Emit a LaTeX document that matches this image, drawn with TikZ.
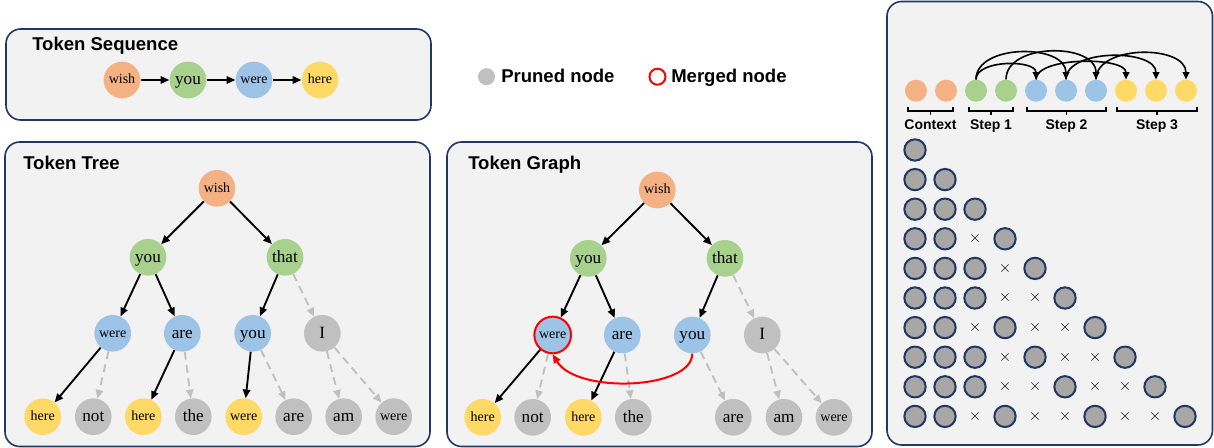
\documentclass[tikz,border=0pt]{standalone}
\usepackage{fontspec}
\setmainfont{Liberation Serif}
\setsansfont{Liberation Sans}
\usetikzlibrary{arrows.meta}
\definecolor{tokorange}{HTML}{F4B183}
\definecolor{tokgreen}{HTML}{A9D18E}
\definecolor{tokblue}{HTML}{9DC3E6}
\definecolor{tokyellow}{HTML}{FFD966}
\definecolor{tokgray}{HTML}{C0C0C0}
\definecolor{panelfill}{HTML}{F2F2F2}
\definecolor{panelline}{HTML}{203864}
\definecolor{maskgray}{HTML}{A9A6A6}
\tikzset{panel/.style={draw=panelline, fill=panelfill, line width=1.2pt, rounded corners=11pt},
         title/.style={anchor=base west, inner sep=0pt, font=\sffamily\bfseries\fontsize{13.9}{16}\selectfont},
         tok/.style={circle, inner sep=0pt, minimum size=27.5pt},
         sm/.style={tok, text height=7pt, text depth=1pt, font=\fontsize{10.5}{12}\selectfont},
         lg/.style={tok, text height=8.5pt, text depth=1pt, font=\fontsize{12.9}{14}\selectfont},
         edge/.style={line width=1.4pt, -{Triangle[length=6.5pt,width=5.5pt]}},
         pruned/.style={edge, draw=tokgray, dash pattern=on 6pt off 4pt},
         merge/.style={edge, draw=red, line width=1.5pt},
         dot/.style={circle, inner sep=0pt, minimum size=16.5pt},
         arc/.style={line width=1.2pt, -{Triangle[length=5.5pt,width=5pt]}},
         bracket/.style={line width=1.1pt},
         braceLabel/.style={anchor=base, inner sep=0pt, font=\sffamily\bfseries\fontsize{10.5}{12}\selectfont},
         keep/.style={circle, draw=panelline, fill=maskgray, line width=1.5pt, inner sep=0pt, minimum size=16pt},
         cross/.style={inner sep=0pt, font=\fontsize{13}{14}\selectfont}
        }

\begin{document}
\begin{tikzpicture}[x=0.75pt, y=-0.75pt]
        \useasboundingbox (0,0) rectangle (1214,448);
        \draw [panel] (6,29) rectangle (431,120);
        \draw [panel] (5,142) rectangle (430,446.5);
        \draw [panel] (447,142) rectangle (872,446.5);
        \draw [panel] (887,1.5) rectangle (1212.5,445);
        \node [title] (seqtitle) at (32,50.7) {Token Sequence};
        \node [title] (treetitle) at (23,170) {Token Tree};
        \node [title] (graphtitle) at (468,170) {Token Graph};

        \node [sm, fill=tokorange] (q1) at (122,80) {wish};
        \node [lg, fill=tokgreen] (q2) at (188,80) {you};
        \node [sm, fill=tokblue] (q3) at (254,80) {were};
        \node [sm, fill=tokyellow] (q4) at (320,80) {here};
        \draw [edge] (q1) -- (q2);
        \draw [edge] (q2) -- (q3);
        \draw [edge] (q3) -- (q4);

        \node [circle, fill=tokgray, inner sep=0pt, minimum size=12.75pt] (prunedkey) at (486.5,76.7) {};
        \node [anchor=base west, inner sep=0pt, font=\sffamily\bfseries\fontsize{13.9}{16}\selectfont] (prunedtext) at (501,82.3) {Pruned node};
        \node [circle, draw=red, line width=1.5pt, inner sep=0pt, minimum size=12pt] (mergedkey) at (657.5,76.7) {};
        \node [anchor=base west, inner sep=0pt, font=\sffamily\bfseries\fontsize{13.9}{16}\selectfont] (mergedtext) at (671,82.3) {Merged node};

        \node [sm, fill=tokorange] (a0) at (217,188.3) {wish};
        \node [lg, fill=tokgreen] (a1) at (148,257.3) {you};
        \node [lg, fill=tokgreen] (a2) at (285,257.3) {that};
        \node [sm, fill=tokblue] (a3) at (112.7,333.3) {were};
        \node [lg, fill=tokblue] (a4) at (182.3,333.3) {are};
        \node [lg, fill=tokblue] (a5) at (252.7,333.3) {you};
        \node [lg, fill=tokgray] (a6) at (322.3,333.3) {I};
        \node [sm, fill=tokyellow] (a7) at (42.7,416.7) {here};
        \node [lg, fill=tokgray] (a8) at (93.3,416.7) {not};
        \node [sm, fill=tokyellow] (a9) at (143.3,416.7) {here};
        \node [lg, fill=tokgray] (a10) at (193.3,416.7) {the};
        \node [sm, fill=tokyellow] (a11) at (243.7,416.7) {were};
        \node [lg, fill=tokgray] (a12) at (293.7,416.7) {are};
        \node [lg, fill=tokgray] (a13) at (343.7,416.7) {am};
        \node [sm, fill=tokgray] (a14) at (393.7,416.7) {were};
        \foreach \s/\t in {a0/a1, a0/a2, a1/a3, a1/a4, a2/a5, a3/a7, a4/a9, a5/a11}
          \draw [edge] (\s) -- (\t);
        \foreach \s/\t in {a2/a6, a3/a8, a4/a10, a5/a12, a6/a13, a6/a14}
          \draw [pruned] (\s) -- (\t);

        \node [sm, fill=tokorange] (b0) at (657.3,190) {wish};
        \node [lg, fill=tokgreen] (b1) at (588.3,258.3) {you};
        \node [lg, fill=tokgreen] (b2) at (725,258.3) {that};
        \node [sm, fill=tokblue, draw=red, line width=1.5pt] (b3) at (552.7,335) {were};
        \node [lg, fill=tokblue] (b4) at (622.3,335) {are};
        \node [lg, fill=tokblue] (b5) at (692.3,335) {you};
        \node [lg, fill=tokgray] (b6) at (762.3,335) {I};
        \node [sm, fill=tokyellow] (b7) at (482.7,417.3) {here};
        \node [lg, fill=tokgray] (b8) at (532.7,417.3) {not};
        \node [sm, fill=tokyellow] (b9) at (583.3,417.3) {here};
        \node [lg, fill=tokgray] (b10) at (633.3,417.3) {the};
        \node [lg, fill=tokgray] (b12) at (733.3,417.3) {are};
        \node [lg, fill=tokgray] (b13) at (784,417.3) {am};
        \node [sm, fill=tokgray] (b14) at (834,417.3) {were};
        \foreach \s/\t in {b0/b1, b0/b2, b1/b3, b1/b4, b2/b5, b3/b7, b4/b9}
          \draw [edge] (\s) -- (\t);
        \foreach \s/\t in {b2/b6, b3/b8, b4/b10, b5/b12, b6/b13, b6/b14}
          \draw [pruned] (\s) -- (\t);
        \draw [merge] (b5.south) .. controls +(0,36) and +(24,40) .. (b3.south);

        \foreach \c [count=\i] in {tokorange, tokorange, tokgreen, tokgreen, tokblue, tokblue, tokblue, tokyellow, tokyellow, tokyellow}
          \node [dot, fill=\c] (t\i) at ({886+30*\i},90.7) {};
        \foreach \s/\t/\h in {t3/t5/20, t3/t6/36, t4/t7/37, t5/t8/23, t6/t9/31, t7/t10/35}
          \draw [arc] (\s.north) .. controls +(0,-\h) and +(0,-\h) .. (\t.north);
        \foreach \a/\b/\lbl [count=\k] in {908/953/Context, 969/1013/Step 1, 1027/1106/Step 2, 1117/1197/Step 3} {
          \draw [bracket] (\a,107) |- (\b,111) -- (\b,107);
          \draw [bracket] ({(\a+\b)/2},111) -- ++(0,4);
          \node [braceLabel] (lbl\k) at ({(\a+\b)/2},130) {\lbl};
        }

        \foreach \row [count=\i from 0] in {{1},{1,1},{1,1,1},{1,1,0,1},{1,1,1,0,1},{1,1,1,0,0,1},{1,1,0,1,0,0,1},{1,1,1,0,1,0,0,1},{1,1,1,0,0,1,0,0,1},{1,1,0,1,0,0,1,0,0,1}}
          \foreach \v [count=\j from 0] in \row {
            \ifnum\v=1 \node [keep] (m\i-\j) at ({915+30*\j},{150+29.6*\i}) {};
            \else \node [cross] (m\i-\j) at ({915+30*\j},{150+29.6*\i}) {$\times$};
            \fi
          }
      \end{tikzpicture}
\end{document}
